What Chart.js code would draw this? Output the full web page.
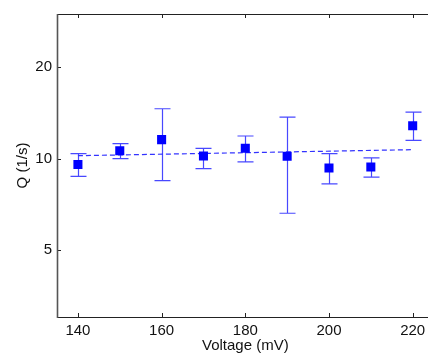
<!DOCTYPE html>
<html><head><meta charset="utf-8">
<script src="https://cdn.jsdelivr.net/npm/chart.js@4"></script>
<style>html,body{margin:0;padding:0;overflow:hidden;background:#fff;width:428px;height:353px}</style>
</head><body>
<canvas id="c" width="440" height="355" style="width:440px;height:355px;display:block"></canvas>
<script>
const voltages = [140,150,160,170,180,190,200,210,220];
const qValues  = [9.56,10.62,11.55,10.2,10.81,10.17,9.31,9.38,12.84];
const qUpper   = [10.39,11.2,14.6,10.8,11.87,13.7,10.39,10.05,14.23];
const qLower   = [8.74,10.0,8.46,9.27,9.75,6.6,8.25,8.68,11.49];
const fitX     = [140,220];
const fitY     = [10.22,10.7];
const xTicks   = [140,160,180,200,220];
const yTicks   = [5,10,20];

const FONT = "'Liberation Sans', Arial, Helvetica, sans-serif";

const frame = {
  id:'frame',
  beforeDatasetsDraw(chart){
    const {ctx, chartArea:a, scales:{x,y}} = chart;
    ctx.save();
    ctx.strokeStyle = 'rgba(40,40,255,0.85)';
    ctx.lineWidth = 1.2;
    voltages.forEach((v,i)=>{
      const px = Math.round(x.getPixelForValue(v))+0.5;
      const pt = y.getPixelForValue(qUpper[i]);
      const pb = y.getPixelForValue(qLower[i]);
      ctx.beginPath();
      ctx.moveTo(px,pt); ctx.lineTo(px,pb);
      ctx.moveTo(px-8,pt); ctx.lineTo(px+8,pt);
      ctx.moveTo(px-8,pb); ctx.lineTo(px+8,pb);
      ctx.stroke();
    });
    ctx.restore();
  },
  afterDraw(chart){
    const {ctx, chartArea:a, scales:{x,y}} = chart;
    ctx.save();
    ctx.lineWidth = 1;
    ctx.strokeStyle = '#222';
    ctx.beginPath();
    ctx.moveTo(a.left+0.5, a.top+0.5); ctx.lineTo(a.right+0.5, a.top+0.5);
    ctx.moveTo(a.left, a.bottom+0.5); ctx.lineTo(a.right, a.bottom+0.5);
    xTicks.forEach(t=>{
      const px = Math.round(x.getPixelForValue(t))+0.5;
      ctx.moveTo(px,a.bottom); ctx.lineTo(px,a.bottom-4);
      ctx.moveTo(px,a.top); ctx.lineTo(px,a.top+4);
    });
    yTicks.forEach(t=>{
      const py = Math.round(y.getPixelForValue(t))+0.5;
      ctx.moveTo(a.left,py); ctx.lineTo(a.left+4,py);
    });
    ctx.stroke();
    ctx.strokeStyle = '#555';
    ctx.lineWidth = 1.6;
    ctx.beginPath();
    ctx.moveTo(a.left+0.5, a.top); ctx.lineTo(a.left+0.5, a.bottom+1);
    ctx.stroke();
    ctx.restore();
  }
};

new Chart(document.getElementById('c'),{
  type:'scatter',
  data:{datasets:[
    {label:'fit', type:'line', data:fitX.map((v,i)=>({x:v,y:fitY[i]})),
     borderColor:'#3333ff', borderWidth:1.2, borderDash:[5,3], pointRadius:0, fill:false, order:2},
    {label:'Q', data:voltages.map((v,i)=>({x:v,y:qValues[i]})),
     pointStyle:'rect', pointRadius:6.4, backgroundColor:'#0000ff', borderColor:'#0000ff', borderWidth:0, order:1}
  ]},
  options:{
    responsive:false, animation:false, devicePixelRatio:1,
    layout:{padding:{top:14,right:6,left:0,bottom:0}},
    plugins:{legend:{display:false}, tooltip:{enabled:false}},
    scales:{
      x:{type:'linear', min:135, max:225,
         afterBuildTicks:s=>{s.ticks=xTicks.map(v=>({value:v}));},
         afterFit:s=>{s.height=38;},
         grid:{display:false, drawTicks:false}, border:{display:false},
         ticks:{color:'#111', font:{family:FONT,size:15}, padding:5},
         title:{display:true, text:'Voltage (mV)', color:'#111', font:{family:FONT,size:15}, padding:{top:0,bottom:0}}},
      y:{type:'logarithmic', min:3, max:30,
         afterBuildTicks:s=>{s.ticks=yTicks.map(v=>({value:v}));},
         afterFit:s=>{s.width=57;},
         grid:{display:false, drawTicks:false}, border:{display:false},
         ticks:{color:'#111', font:{family:FONT,size:15}, padding:5, callback:v=>String(v)},
         title:{display:true, text:'Q (1/s)', color:'#111', font:{family:FONT,size:15}, padding:{top:14,bottom:0}}}
    }
  },
  plugins:[frame]
});
</script>
</body></html>
